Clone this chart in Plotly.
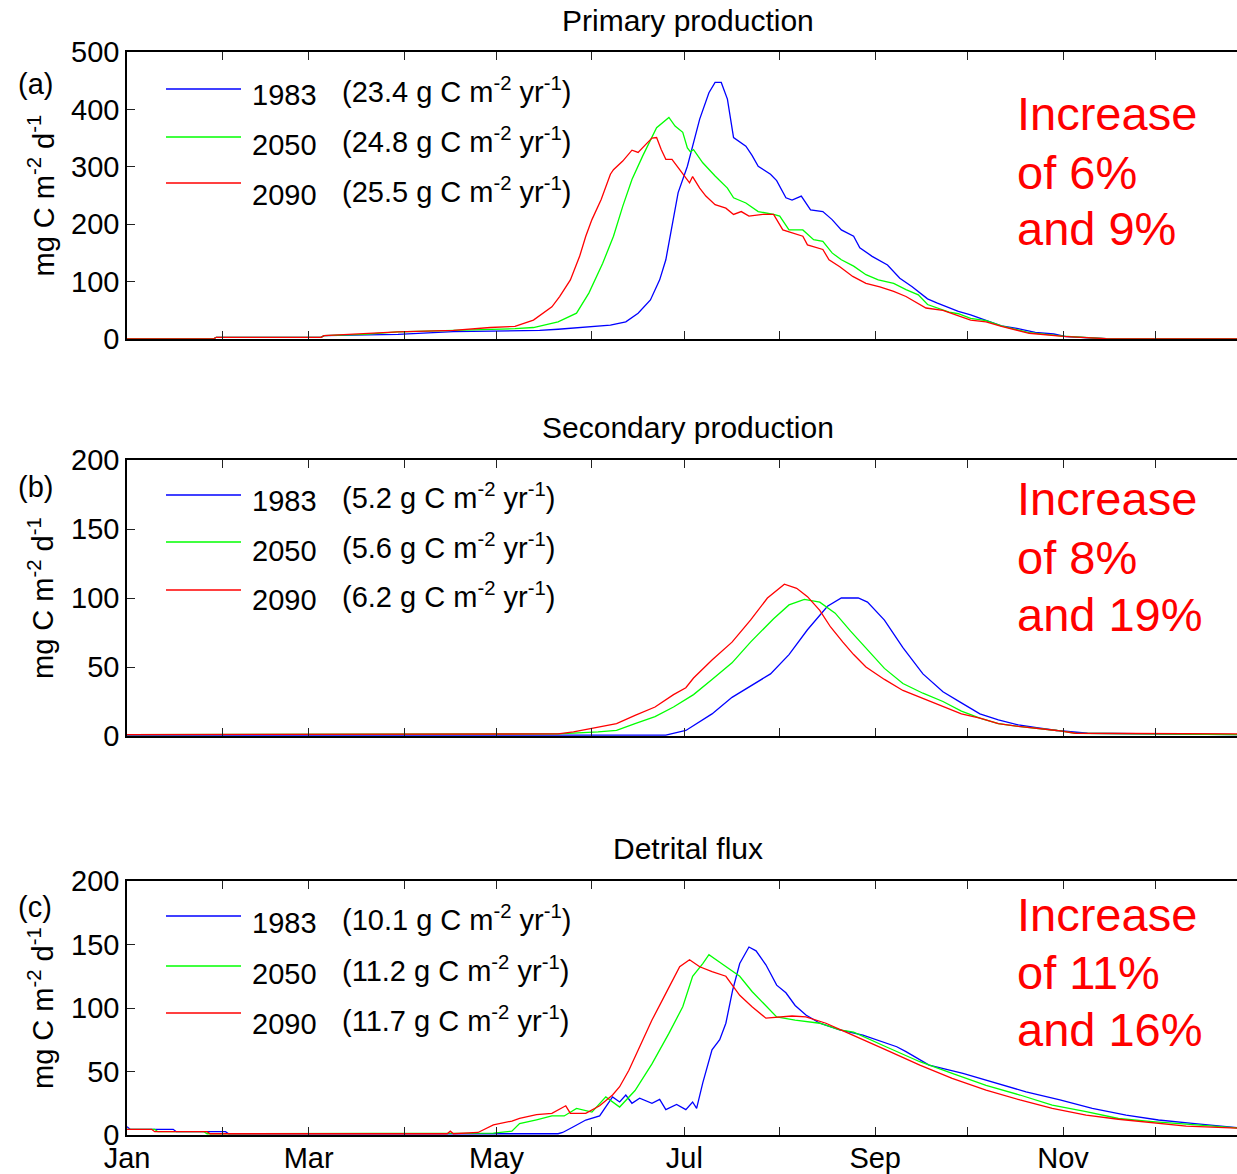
import plotly.graph_objects as go

# ---------------- data ----------------
month_days = [1, 32, 60, 91, 121, 152, 182, 213, 244, 274, 305, 335]
month_labels = ["Jan", "", "Mar", "", "May", "", "Jul", "", "Sep", "", "Nov", ""]
years = ["1983", "2050", "2090"]
colors = ["#0000ff", "#00ff00", "#ff0000"]

titles = ["Primary production", "Secondary production", "Detrital flux"]
panel_labels = ["(a)", "(b)", "(c)"]
annual_totals = [["23.4", "24.8", "25.5"], ["5.2", "5.6", "6.2"], ["10.1", "11.2", "11.7"]]
increase_text = [["Increase", "of 6%", "and 9%"],
                 ["Increase", "of 8%", "and 19%"],
                 ["Increase", "of 11%", "and 16%"]]
y_ranges = [[0, 500], [0, 200], [0, 200]]
y_ticks = [[0, 100, 200, 300, 400, 500], [0, 50, 100, 150, 200], [0, 50, 100, 150, 200]]

# Panel (a) primary production, mg C m-2 d-1
pp_1983_day = [1, 29, 30, 64, 65, 89, 107, 120, 135, 141, 152, 158, 163, 167, 171, 174, 176, 178, 180,
               183, 185, 187, 190, 192, 194, 196, 198, 202, 204, 206, 210, 212, 215, 217, 220, 223, 227,
               230, 233, 237, 239, 243, 248, 252, 256, 261, 264, 268, 271, 275, 280, 285, 290, 296, 302,
               306, 319, 365]
pp_1983_val = [0, 0, 3, 3, 6, 8, 13, 14, 15, 17, 21, 24, 30, 45, 68, 103, 138, 196, 255,
               301, 342, 383, 429, 447, 447, 418, 351, 336, 320, 301, 287, 276, 246, 242, 249, 225, 222,
               208, 190, 179, 159, 144, 129, 106, 91, 70, 63, 54, 48, 42, 33, 23, 18.7, 11.6, 8.7,
               4, 0.5, 0]

pp_2050_day = [1, 29, 30, 64, 65, 78, 89, 107, 119, 127, 133, 139, 141, 147, 151, 155.5, 159, 162, 165,
               168.5, 173, 177, 179, 181.5, 183, 184, 185, 188, 192, 196, 198, 202, 206, 211, 213, 216,
               220.5, 224, 227, 230, 233, 237, 241, 245, 250, 254, 258, 261, 265, 268, 271, 275, 280,
               285, 294, 305, 319, 365]
pp_2050_val = [0, 0, 3, 3, 6, 8, 12.5, 15, 17, 18, 20, 27, 30, 45, 80, 132, 179, 231, 278,
               319, 368, 386, 371, 360, 333, 326, 330, 307, 284, 263, 246, 237, 222, 217, 214, 190,
               190, 173, 170, 150, 138, 127, 112, 103, 97, 86, 77, 60, 52, 47, 44, 36, 32,
               23, 11, 5, 0.5, 0]

pp_2090_day = [1, 29, 30, 64, 65, 78, 89, 107, 119, 127, 133, 139, 141.5, 145, 148, 150, 152, 155, 158,
               159, 162, 165, 167, 169.5, 171.5, 173, 174.5, 176, 178, 180.5, 182.5, 183.7, 184.7, 187,
               189, 192, 195.5, 198, 200.5, 203, 207.5, 211, 214, 217, 220.5, 222, 227, 229, 232.5,
               236.7, 241, 245.5, 250, 254, 260.5, 266, 271.4, 275, 280, 285, 294, 305, 319, 365]
pp_2090_val = [0, 0, 3, 3, 6, 10, 12.5, 15, 20, 22, 33, 56, 74, 103, 144, 179, 208, 243, 287,
               295, 310, 329, 325, 339, 350, 351, 330, 313, 313, 295, 281, 272, 283, 263,
               249, 234, 228, 217, 222, 214, 217, 217, 190, 185, 179, 164, 156, 138, 126,
               109, 97, 91, 83, 74, 54, 50, 40, 33, 30, 22, 10, 4.7, 0.5, 0]

# Panel (b) secondary production
sp_1983_day = [1, 176, 182.5, 191, 197.5, 203.5, 210, 216, 222, 228.5, 233, 238.5, 241.5, 247, 253,
               259.5, 266, 272, 278, 284, 290.5, 297, 303, 313, 365]
sp_1983_val = [0.7, 0.7, 4, 16, 28, 36, 45, 59, 77, 94, 100, 100, 97, 84, 64,
               45, 32, 24, 16, 11.6, 8, 5.8, 4, 2, 1]

sp_2050_day = [1, 141, 154, 160, 166, 172.5, 178.5, 185, 191, 197.5, 203.5, 211, 216, 221, 226, 231,
               236, 241, 247, 253, 259.5, 266, 272, 278, 284, 290.5, 303, 309, 365]
sp_2050_val = [1, 1.5, 3, 4, 9, 14, 21, 30, 41, 53, 68, 85, 95, 99, 97, 89,
               76, 64, 49, 38, 31, 25, 18, 13, 9, 7, 4, 2, 1]

sp_2090_day = [1, 141, 146, 152, 160, 166, 172.5, 178.5, 182.5, 185, 191, 197.5, 203.5, 209, 214.5,
               218.5, 222, 226, 229.5, 233.5, 237, 241, 247, 253, 259.5, 266, 272, 278, 284, 290.5,
               303, 309, 365]
sp_2090_val = [1, 1.5, 3, 5.6, 9, 15, 21, 30, 35, 42, 55, 68, 84, 100, 110,
               107, 101, 91, 79, 68, 59, 50, 41, 33, 27, 21, 16, 13, 9, 7,
               4, 2, 1.5]

# Panel (c) detrital flux
df_1983_day = [1, 2, 16, 17, 33, 34, 141, 142.5, 146, 150, 154.5, 156.5, 158.7, 161, 163, 165, 167.5,
               171.5, 174, 176, 179.5, 182.5, 184.7, 186, 188, 191, 193.5, 195.5, 197.7, 200, 203,
               205.3, 208.5, 212, 215, 218, 221.5, 226, 232.5, 240, 251, 254, 261.5, 272.5, 282, 293,
               304, 314.5, 325.5, 336, 347, 358, 365]
df_1983_val = [6.5, 4.5, 4.5, 2.6, 2.6, 1, 1, 2, 6.5, 11.8, 15, 22, 30, 26, 31.5, 25, 29,
               25, 28, 20, 24, 20, 26, 21, 41, 67, 75, 88, 114, 135, 148,
               145, 134, 118, 112, 102, 94.5, 88, 82.7, 78.7, 69.5, 65.6, 55, 48.6, 42, 34,
               27.6, 21, 15.7, 11.8, 9.2, 7, 5]

df_2050_day = [1, 10, 11, 26, 27, 120, 126, 128.5, 134, 139, 143, 147, 152, 156.5, 161, 166, 171.5,
               177, 181.5, 184.7, 188, 190, 193.5, 196.5, 200, 204, 207.5, 212, 218, 226, 232.5, 237,
               247.5, 258.5, 269, 280, 291, 301.5, 312.5, 323, 334, 345, 365]
df_2050_val = [4.5, 4.5, 2.6, 2.6, 1, 1.5, 3, 9, 12, 15, 15, 21, 18, 30, 22, 35, 56,
               80, 101, 125, 135, 142, 136, 131, 125, 113, 104, 93, 90.5, 88, 82.7, 81,
               69.5, 57.7, 48.6, 39, 31.5, 23.6, 18.4, 13, 10.5, 8.4, 5]

df_2090_day = [1, 9, 10, 27, 28, 105, 106, 107, 115, 120, 126, 128.5, 134, 139, 143.5, 145, 150,
               154.5, 158.7, 161, 164, 167.5, 171.5, 176, 180.5, 183.7, 187, 191, 195.5, 200, 204,
               208.5, 212, 217, 221.5, 228, 234.5, 239, 247.5, 258.5, 269, 280, 291, 301.5, 312.5,
               323, 334, 345, 365]
df_2090_val = [4.5, 4.5, 2.6, 2.6, 1, 1, 3, 1, 2, 8, 11, 13, 16, 17, 23, 17, 17,
               23, 31.5, 38, 51, 69.5, 90.5, 111.5, 132.5, 138, 132.5, 128.6, 125, 110, 101,
               92, 92.5, 93.7, 93, 88, 81, 76, 67, 55, 44.6, 35.4, 27.6, 21, 15.7,
               12.4, 9.7, 7, 5]

panels = [
    [(pp_1983_day, pp_1983_val), (pp_2050_day, pp_2050_val), (pp_2090_day, pp_2090_val)],
    [(sp_1983_day, sp_1983_val), (sp_2050_day, sp_2050_val), (sp_2090_day, sp_2090_val)],
    [(df_1983_day, df_1983_val), (df_2050_day, df_2050_val), (df_2090_day, df_2090_val)],
]

# ---------------- layout geometry (pixels) ----------------
W, H = 1237, 1174
L = 127
PW = W - L
FONT = "Liberation Sans"
px_per_day = 3.079
x_range = [1, 1 + PW / px_per_day]

plot_top = [52, 460, 881]
plot_bot = [339, 736, 1135]
title_y = [21, 427, 849]
label_y = [84, 487, 907]
leg_line_y = [[89, 137, 183], [495, 542, 590], [916, 966, 1013]]
leg_text_y = [[95, 145, 195], [501, 551, 600], [923, 974, 1024]]
inc_y = [[113, 172, 229], [498, 557, 614], [914, 972, 1029]]


def fx(px):
    return (px - L) / PW


def fy(py):
    return 1 - py / H


fig = go.Figure()
annotations = []
shapes = []

for i in range(3):
    xa = "x" if i == 0 else f"x{i+1}"
    ya = "y" if i == 0 else f"y{i+1}"
    for j in range(3):
        d, v = panels[i][j]
        fig.add_trace(go.Scatter(x=d, y=v, mode="lines", xaxis=xa, yaxis=ya,
                                 line=dict(color=colors[j], width=1.3),
                                 showlegend=False, hoverinfo="skip"))
    xkey = "xaxis" if i == 0 else f"xaxis{i+1}"
    ykey = "yaxis" if i == 0 else f"yaxis{i+1}"
    fig.layout[xkey] = dict(
        domain=[0, 1], anchor=ya, range=x_range, automargin=False,
        tickmode="array", tickvals=month_days, ticktext=month_labels,
        showticklabels=(i == 2), ticks="inside", ticklen=8, tickwidth=1, tickcolor="#222",
        ticklabelstandoff=-4,
        showline=True, linecolor="black", linewidth=1.5, mirror="ticks",
        showgrid=False, zeroline=False,
        tickfont=dict(family=FONT, size=29, color="black"),
    )
    fig.layout[ykey] = dict(
        domain=[fy(plot_bot[i]), fy(plot_top[i])], anchor=xa, range=y_ranges[i], automargin=False,
        tickmode="array", tickvals=y_ticks[i],
        ticks="inside", ticklen=8, tickwidth=1, tickcolor="#222",
        showline=True, linecolor="black", linewidth=1.5,
        showgrid=False, zeroline=False,
        tickfont=dict(family=FONT, size=29, color="black"),
    )
    # subplot title
    annotations.append(dict(text=titles[i], x=fx(688), y=fy(title_y[i]), xref="paper", yref="paper",
                            xanchor="center", yanchor="middle", showarrow=False,
                            font=dict(family=FONT, size=30, color="black")))
    # panel label
    annotations.append(dict(text=panel_labels[i], x=fx(35), y=fy(label_y[i]), xref="paper", yref="paper",
                            xanchor="center", yanchor="middle", showarrow=False,
                            font=dict(family=FONT, size=29, color="black")))
    # y axis title
    annotations.append(dict(text="mg C m<sup>-2</sup> d<sup>-1</sup>", textangle=-90,
                            x=fx(41), y=fy((plot_top[i] + plot_bot[i]) / 2), xref="paper", yref="paper",
                            xanchor="center", yanchor="middle", showarrow=False,
                            font=dict(family=FONT, size=29, color="black")))
    # legend
    for j in range(3):
        shapes.append(dict(type="line", xref="paper", yref="paper",
                           x0=fx(166), x1=fx(241), y0=fy(leg_line_y[i][j]), y1=fy(leg_line_y[i][j]),
                           line=dict(color=colors[j], width=1.3)))
        annotations.append(dict(text=years[j], x=fx(250), y=fy(leg_text_y[i][j]),
                                xref="paper", yref="paper", xanchor="left", yanchor="middle",
                                showarrow=False, font=dict(family=FONT, size=29, color="black")))
        annotations.append(dict(text=f"({annual_totals[i][j]} g C m<sup>-2</sup> yr<sup>-1</sup>)",
                                x=fx(340), y=fy(leg_text_y[i][j] - 5),
                                xref="paper", yref="paper", xanchor="left", yanchor="middle",
                                showarrow=False, font=dict(family=FONT, size=29, color="black")))
    # red increase text
    for k in range(3):
        annotations.append(dict(text=increase_text[i][k], x=fx(1015), y=fy(inc_y[i][k]),
                                xref="paper", yref="paper", xanchor="left", yanchor="middle",
                                showarrow=False, font=dict(family=FONT, size=47, color="#ff0000")))

fig.update_layout(width=W, height=H, margin=dict(l=L, r=0, t=0, b=0, autoexpand=False),
                  paper_bgcolor="white", plot_bgcolor="white",
                  annotations=annotations, shapes=shapes, showlegend=False)

fig.write_html("out.html")
